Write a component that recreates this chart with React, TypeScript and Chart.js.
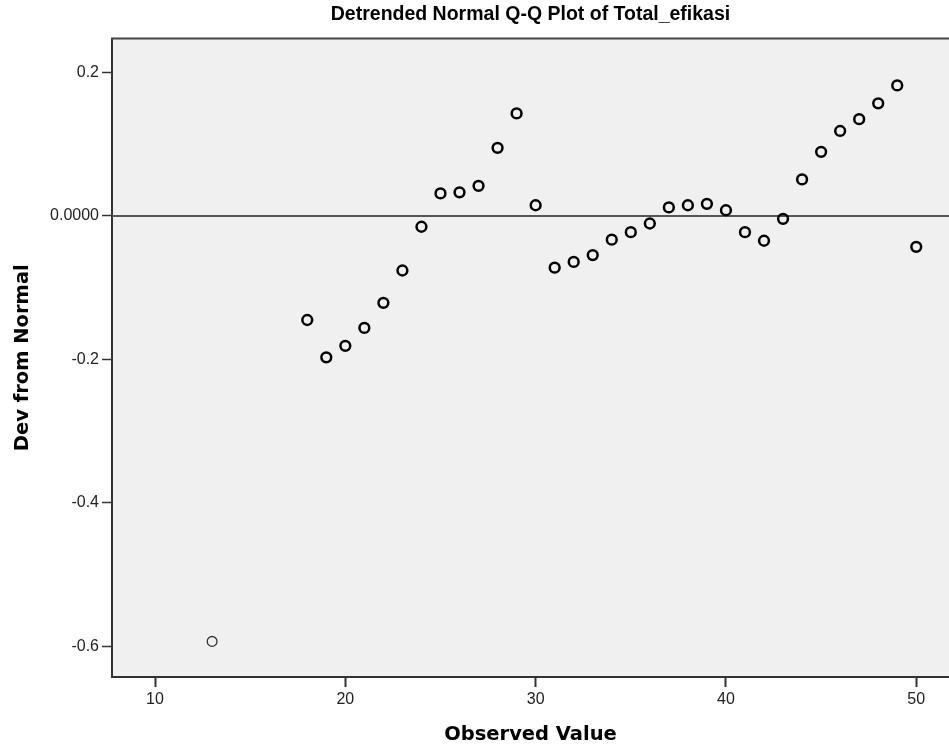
import React, { useEffect, useRef } from "react";
import { Chart, registerables } from "chart.js";

Chart.register(...registerables);

const chartTitle = "Detrended Normal Q-Q Plot of Total_efikasi";
const xAxisTitle = "Observed Value";
const yAxisTitle = "Dev from Normal";

const observedValues = [
  13, 18, 19, 20, 21, 22, 23, 24, 25, 26, 27, 28, 29, 30, 31, 32, 33, 34, 35,
  36, 37, 38, 39, 40, 41, 42, 43, 44, 45, 46, 47, 48, 49, 50,
];
const devFromNormal = [
  -0.593, -0.145, -0.197, -0.181, -0.156, -0.121, -0.076, -0.015, 0.0315,
  0.033, 0.042, 0.095, 0.143, 0.015, -0.072, -0.064, -0.0545, -0.033, -0.0225,
  -0.0105, 0.012, 0.015, 0.017, 0.008, -0.0225, -0.0345, -0.004, 0.051, 0.0895,
  0.1185, 0.135, 0.157, 0.182, -0.043,
];
const xTicks = [10, 20, 30, 40, 50];
const yTicks = [-0.6, -0.4, -0.2, 0, 0.2];
const referenceLevel = 0;

const plotDecor = {
  id: "plotDecor",
  beforeDraw(chart: any) {
    const { ctx, chartArea } = chart;
    ctx.save();
    ctx.fillStyle = "#f0f0f0";
    ctx.fillRect(
      chartArea.left,
      chartArea.top,
      chartArea.right - chartArea.left,
      chartArea.bottom - chartArea.top
    );
    ctx.restore();
  },
  beforeDatasetsDraw(chart: any) {
    const { ctx, chartArea, scales } = chart;
    const y = scales.y.getPixelForValue(referenceLevel);
    ctx.save();
    ctx.strokeStyle = "#555555";
    ctx.lineWidth = 2;
    ctx.beginPath();
    ctx.moveTo(chartArea.left, y);
    ctx.lineTo(chartArea.right, y);
    ctx.stroke();
    ctx.restore();
  },
  afterDraw(chart: any) {
    const { ctx, chartArea } = chart;
    ctx.save();
    ctx.strokeStyle = "#444444";
    ctx.lineWidth = 2;
    ctx.beginPath();
    ctx.moveTo(chartArea.left - 1, chartArea.top);
    ctx.lineTo(chartArea.right, chartArea.top);
    ctx.stroke();
    ctx.restore();
  },
};

export default function App() {
  const canvasRef = useRef<HTMLCanvasElement | null>(null);

  useEffect(() => {
    if (!canvasRef.current) return;
    const points = observedValues.map((x, i) => ({ x, y: devFromNormal[i] }));
    const chart = new Chart(canvasRef.current, {
      type: "scatter",
      data: {
        datasets: [
          {
            data: points,
            pointStyle: "circle",
            pointRadius: 4.9,
            pointHoverRadius: 4.9,
            pointBorderWidth: (c: any) => (c.dataIndex === 0 ? 1.3 : 2.5),
            pointBorderColor: (c: any) => (c.dataIndex === 0 ? "#333333" : "#000000"),
            pointBackgroundColor: "rgba(0,0,0,0)",
            clip: false,
          } as any,
        ],
      },
      options: {
        responsive: false,
        animation: false,
        events: [],
        layout: { padding: 0, autoPadding: false },
        plugins: {
          legend: { display: false },
          tooltip: { enabled: false },
          title: {
            display: true,
            text: chartTitle,
            fullSize: false,
            color: "#000000",
            font: { family: "'Liberation Sans', Arial, sans-serif", size: 19.5, weight: "bold" },
            padding: { top: 3, bottom: 12.1 },
          },
        },
        scales: {
          x: {
            type: "linear",
            min: 7.74,
            max: 51.72,
            afterBuildTicks: (s: any) => {
              s.ticks = xTicks.map((v) => ({ value: v }));
            },
            afterFit: (s: any) => {
              s.height = 78;
              s.paddingLeft = 0;
              s.paddingRight = 0;
            },
            grid: {
              drawOnChartArea: false,
              drawTicks: true,
              tickLength: 10,
              tickColor: "#333333",
              tickWidth: 2,
            },
            border: { display: true, color: "#333333", width: 2 },
            ticks: {
              color: "#222222",
              padding: 3,
              maxRotation: 0,
              font: { family: "'Liberation Sans', Arial, sans-serif", size: 16 },
            },
            title: {
              display: true,
              text: xAxisTitle,
              color: "#000000",
              font: { family: "'DejaVu Sans', sans-serif", size: 19.5, weight: "bold" },
              padding: { top: 0, bottom: 8 },
            },
          },
          y: {
            type: "linear",
            min: -0.6426,
            max: 0.2474,
            afterBuildTicks: (s: any) => {
              s.ticks = yTicks.map((v) => ({ value: v }));
            },
            afterFit: (s: any) => {
              s.width = 112;
              s.paddingTop = 0;
              s.paddingBottom = 0;
            },
            grid: {
              drawOnChartArea: false,
              drawTicks: true,
              tickLength: 10,
              tickColor: "#333333",
              tickWidth: 1.5,
            },
            border: { display: true, color: "#333333", width: 2 },
            ticks: {
              color: "#222222",
              padding: 3,
              font: { family: "'Liberation Sans', Arial, sans-serif", size: 16 },
              callback: (v: any) => (Math.abs(Number(v)) < 1e-9 ? "0.0000" : Number(v).toFixed(1)),
            },
            title: {
              display: true,
              text: yAxisTitle,
              color: "#000000",
              font: { family: "'DejaVu Sans', sans-serif", size: 19.5, weight: "bold" },
              padding: { top: 11, bottom: 0 },
            },
          },
        },
      },
      plugins: [plotDecor],
    });
    return () => chart.destroy();
  }, []);

  return (
    <div style={{ position: "absolute", left: 0, top: 0, width: 949, height: 755, background: "#ffffff" }}>
      <canvas ref={canvasRef} width={949} height={755} style={{ width: 949, height: 755, display: "block" }} />
    </div>
  );
}
